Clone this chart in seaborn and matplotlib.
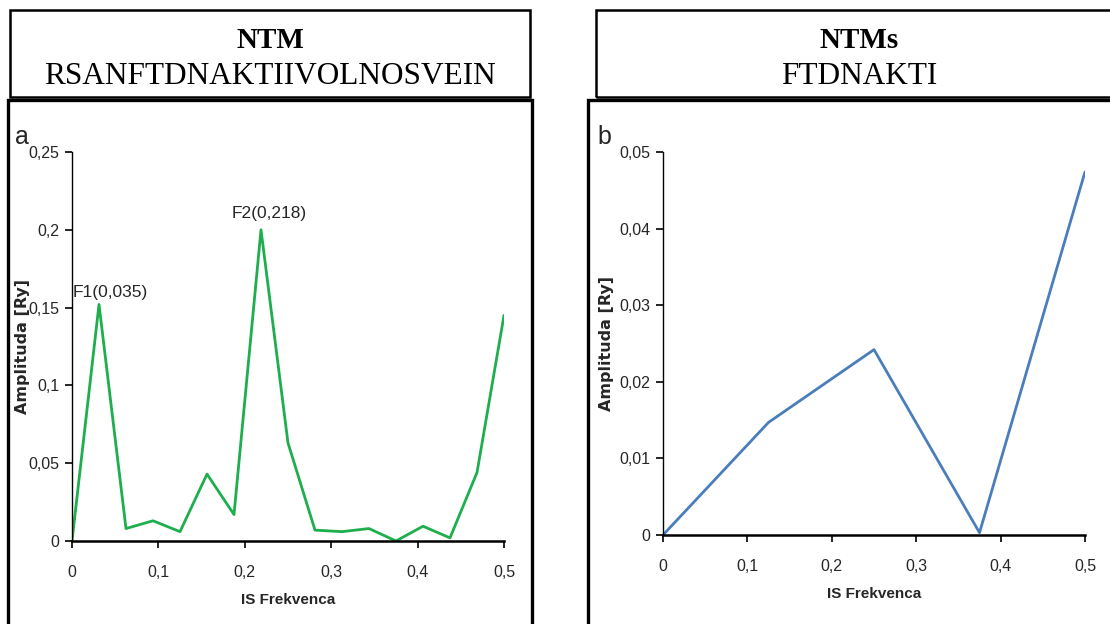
import matplotlib
matplotlib.use("Agg")
import matplotlib.pyplot as plt
import seaborn as sns
import pandas as pd
from matplotlib.patches import Rectangle
from matplotlib.ticker import FuncFormatter

# ---- data ----
freq_a = [0, 1/32, 2/32, 3/32, 4/32, 5/32, 6/32, 7/32, 8/32, 9/32, 10/32,
          11/32, 12/32, 13/32, 14/32, 15/32, 16/32]
amp_a = [0.0, 0.152, 0.008, 0.013, 0.006, 0.043, 0.017, 0.200, 0.063, 0.007,
         0.006, 0.008, 0.0, 0.0095, 0.002, 0.044, 0.145]
freq_b = [0, 0.125, 0.25, 0.375, 0.5]
amp_b = [0.0, 0.0147, 0.0242, 0.0003, 0.0474]

title_a = ["NTM", "RSANFTDNAKTIIVOLNOSVEIN"]
title_b = ["NTMs", "FTDNAKTI"]
peak_labels = ["F1(0,035)", "F2(0,218)"]
xticks = [0, 0.1, 0.2, 0.3, 0.4, 0.5]
yticks_a = [0, 0.05, 0.1, 0.15, 0.2, 0.25]
yticks_b = [0, 0.01, 0.02, 0.03, 0.04, 0.05]
xlabel = "IS Frekvenca"
ylabel = "Amplituda [Ry]"

sns.set_theme(style="white")
plt.rcParams['font.family'] = ['Liberation Sans', 'DejaVu Sans']

W, H = 1110, 624
fig = plt.figure(figsize=(W / 100, H / 100), dpi=100)
fig.patch.set_facecolor("white")

TXT = "#262626"


def px_axes(x0, y0, x1, y1):
    return fig.add_axes([x0 / W, 1 - y1 / H, (x1 - x0) / W, (y1 - y0) / H])


def px_rect(x0, y0, x1, y1, lw):
    fig.patches.append(Rectangle((x0 / W, 1 - y1 / H), (x1 - x0) / W, (y1 - y0) / H,
                                 transform=fig.transFigure, fill=False,
                                 edgecolor="black", linewidth=lw, zorder=0))


def comma(v, pos):
    s = ("%g" % round(v, 4))
    return s.replace(".", ",")


# boxes
px_rect(10, 10, 530, 97, 1.8)
px_rect(8, 100, 532, 640, 2.4)
px_rect(596, 10, 1120, 97, 1.8)
px_rect(588, 100, 1120, 640, 2.4)

# header titles
for cx, (t1, t2) in [(270, title_a), (859, title_b)]:
    fig.text(cx / W, 1 - 40 / H, t1, ha="center", va="center", family="Liberation Serif",
             fontweight="bold", fontsize=21, color="black")
    fig.text(cx / W, 1 - 76 / H, t2, ha="center", va="center", family="Liberation Serif",
             fontsize=22.5, color="black")


def style(ax, yticks, ylim, ylab_x):
    ax.set_xlim(0, 0.5)
    ax.set_ylim(*ylim)
    ax.set_xticks(xticks)
    ax.set_yticks(yticks)
    ax.xaxis.set_major_formatter(FuncFormatter(comma))
    ax.yaxis.set_major_formatter(FuncFormatter(comma))
    sns.despine(ax=ax)
    for s in ["left", "bottom"]:
        ax.spines[s].set_color("black")
    ax.spines["left"].set_linewidth(1.0)
    ax.spines["bottom"].set_linewidth(1.8)
    ax.tick_params(axis="both", direction="out", length=5, width=1.2, colors="black",
                   labelcolor=TXT, labelsize=11.5, pad=4, left=True, bottom=True)
    ax.tick_params(axis="x", pad=12)
    ax.set_xlabel(xlabel, fontsize=11, fontweight="bold", labelpad=10, color=TXT)
    ax.set_ylabel(ylabel, fontsize=11.5, fontweight="bold", family="DejaVu Sans",
                  color=TXT)
    ax.yaxis.set_label_coords(ylab_x, 0.5)
    ax.patch.set_alpha(0)


# panel a
ax1 = px_axes(72, 152, 504, 541)
df_a = pd.DataFrame({"f": freq_a, "a": amp_a})
sns.lineplot(data=df_a, x="f", y="a", ax=ax1, color="#1fae4e", linewidth=2.0)
style(ax1, yticks_a, (0, 0.25), (30 - 72) / 432)
ax1.annotate(peak_labels[0], (freq_a[1], amp_a[1]), xytext=(8, 3), textcoords="offset points",
             ha="center", va="bottom", fontsize=12.5, color=TXT)
ax1.annotate(peak_labels[1], (freq_a[7], amp_a[7]), xytext=(6, 6), textcoords="offset points",
             ha="center", va="bottom", fontsize=12.5, color=TXT)
fig.text(22 / W, 1 - 137 / H, "a", fontsize=18, ha="center", va="center", color=TXT)

# panel b
ax2 = px_axes(663, 152, 1085, 535)
df_b = pd.DataFrame({"f": freq_b, "a": amp_b})
sns.lineplot(data=df_b, x="f", y="a", ax=ax2, color="#4a7ebb", linewidth=2.0)
style(ax2, yticks_b, (0, 0.05), (614 - 663) / 422)
fig.text(604 / W, 1 - 137 / H, "b", fontsize=18, ha="center", va="center", color=TXT)

fig.savefig("out.png", dpi=100, facecolor="white")
